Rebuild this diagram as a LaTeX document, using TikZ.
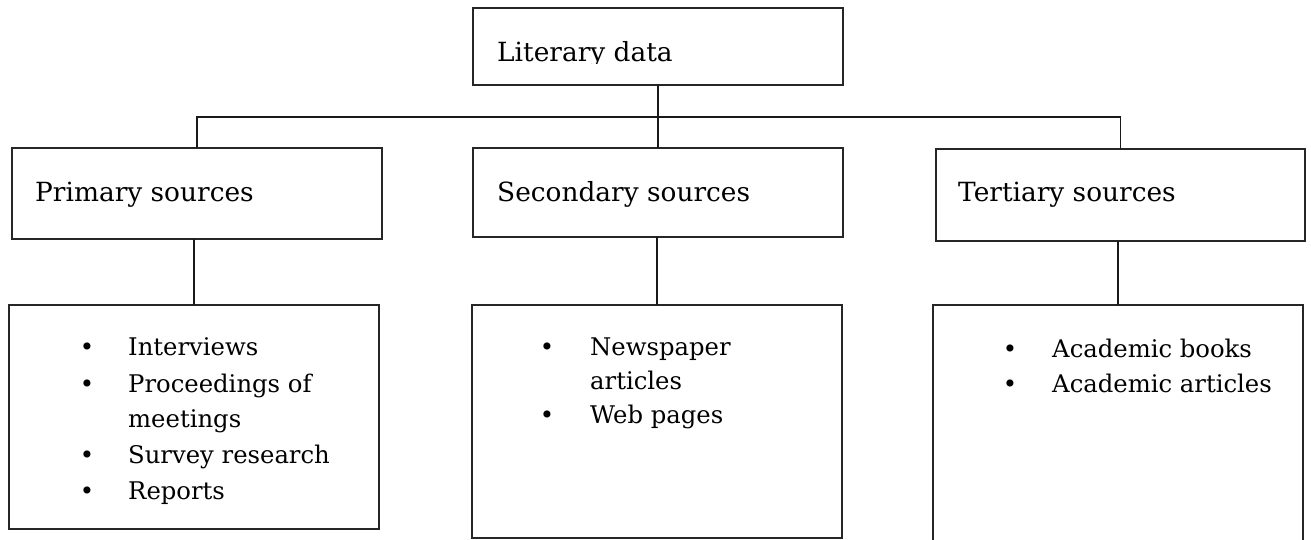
\documentclass[tikz,border=0pt]{standalone}
\usepackage{fontspec}
\setmainfont{DejaVu Serif}
\begin{document}
\begin{tikzpicture}[x=1pt,y=-1pt,
  box/.style={draw=black!85, line width=1.3pt, rectangle, anchor=north west, inner sep=0pt, outer sep=0pt},
  conn/.style={draw=black!90, line width=1.2pt},
  head/.style={anchor=base west, inner sep=0pt, font=\fontsize{26.4}{32}\selectfont},
  item/.style={anchor=base west, inner sep=0pt, font=\fontsize{24.3}{35}\selectfont},
  bul/.style={anchor=base, inner sep=0pt, font=\fontsize{24.3}{35}\selectfont}]
\clip (0,0) rectangle (1311,540);
\fill[white] (0,0) rectangle (1311,540);

% header boxes
\node[box, minimum width=370pt, minimum height=77pt] (top) at (473,8) {};
\node[box, minimum width=370pt, minimum height=91pt] (prim) at (12,148) {};
\node[box, minimum width=370pt, minimum height=89pt] (sec) at (473,148) {};
\node[box, minimum width=369pt, minimum height=92pt] (ter) at (936,149) {};

% list boxes
\node[box, minimum width=370pt, minimum height=224pt] (pl) at (9,305) {};
\node[box, minimum width=370pt, minimum height=233pt] (sl) at (472,305) {};
\node[box, minimum width=370pt, minimum height=250pt] (tl) at (933,305) {};

% header texts
\begin{scope}
\clip (473,8) rectangle (843,64);
\node[head] (tTop) at (497,62) {Literary data};
\end{scope}
\node[head] (tPrim) at (35,202) {Primary sources};
\node[head] (tSec) at (497,201) {Secondary sources};
\node[head] (tTer) at (958,202) {Tertiary sources};

% primary list
\node[bul] (bp1) at (87,355) {•};
\node[item] (ip1) at (128,355) {Interviews};
\node[bul] (bp2) at (87,392) {•};
\node[item] (ip2) at (128,392) {Proceedings of};
\node[item] (ip3) at (128,427) {meetings};
\node[bul] (bp4) at (87,463) {•};
\node[item] (ip4) at (128,463) {Survey research};
\node[bul] (bp5) at (87,499) {•};
\node[item] (ip5) at (128,499) {Reports};

% secondary list
\node[bul] (bs1) at (547,355) {•};
\node[item] (is1) at (590,355) {Newspaper};
\node[item] (is2) at (590,389) {articles};
\node[bul] (bs3) at (547,423) {•};
\node[item] (is3) at (590,423) {Web pages};

% tertiary list
\node[bul] (bt1) at (1010,357) {•};
\node[item] (it1) at (1052,357) {Academic books};
\node[bul] (bt2) at (1010,392) {•};
\node[item] (it2) at (1052,392) {Academic articles};

% connectors
\coordinate (bus) at (658,117);
\draw[conn] (top.south) -- (top.south |- bus);
\draw[conn] (prim.north) |- (ter.north |- bus) -- (ter.north);
\draw[conn] (sec.north) -- (sec.north |- bus);
\draw[conn] (prim.south -| pl.north) -- (pl.north);
\draw[conn] (sec.south -| sl.north) -- (sl.north);
\draw[conn] (ter.south -| tl.north) -- (tl.north);
\end{tikzpicture}
\end{document}
